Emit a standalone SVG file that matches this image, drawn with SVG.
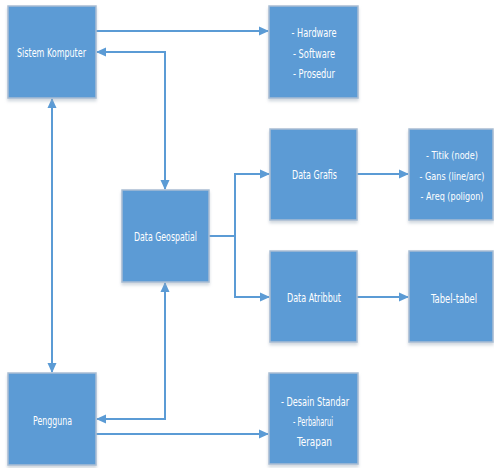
<svg xmlns="http://www.w3.org/2000/svg" width="494" height="468" viewBox="0 0 494 468">
<defs>
<marker id="ah" markerUnits="userSpaceOnUse" markerWidth="10" markerHeight="10" refX="9" refY="5" orient="auto-start-reverse" viewBox="0 0 10 10">
<path d="M0,0.5 L10,5 L0,9.5 Z" fill="#5B9BD5"/>
</marker>
<filter id="sh" x="-10%" y="-10%" width="120%" height="125%">
<feDropShadow dx="0" dy="2.5" stdDeviation="1.5" flood-color="#9aa8b8" flood-opacity="0.45"/>
</filter>
</defs>
<style>
.box{fill:#5B9BD5;stroke:#A9BDD3;stroke-width:1.5;filter:url(#sh)}
.t{fill:#ffffff;font-family:"Liberation Sans Narrow","DejaVu Sans Condensed","Liberation Sans",sans-serif;font-size:12.5px;text-anchor:middle}
.s{font-size:10px}
.c{fill:none;stroke:#5B9BD5;stroke-width:2}
</style>
<rect width="494" height="468" fill="#ffffff"/>
<g id="connectors">
<path class="c" d="M96,31 H268" marker-end="url(#ah)"/>
<path class="c" d="M97,52 H165 V189" marker-start="url(#ah)" marker-end="url(#ah)"/>
<path class="c" d="M52,99 V372" marker-start="url(#ah)" marker-end="url(#ah)"/>
<path class="c" d="M165,283 V419 H97" marker-start="url(#ah)" marker-end="url(#ah)"/>
<path class="c" d="M96,434 H268" marker-end="url(#ah)"/>
<path class="c" d="M209,236 H235"/>
<path class="c" d="M235,174 V297"/>
<path class="c" d="M234,174 H269" marker-end="url(#ah)"/>
<path class="c" d="M234,297 H269" marker-end="url(#ah)"/>
<path class="c" d="M357,174 H408" marker-end="url(#ah)"/>
<path class="c" d="M357,297 H408" marker-end="url(#ah)"/>
</g>
<g id="sistem-komputer">
<rect class="box" x="8" y="6" width="88" height="92"/>
<text class="t" x="51.5" y="56.5" textLength="69" lengthAdjust="spacingAndGlyphs">Sistem Komputer</text>
</g>
<g id="hardware">
<rect class="box" x="269" y="6" width="89" height="92"/>
<text class="t" x="314" y="36.5" textLength="45" lengthAdjust="spacingAndGlyphs">- Hardware</text>
<text class="t" x="314" y="57.5" textLength="42" lengthAdjust="spacingAndGlyphs">- Software</text>
<text class="t" x="314" y="77.5" textLength="42" lengthAdjust="spacingAndGlyphs">- Prosedur</text>
</g>
<g id="data-geospatial">
<rect class="box" x="122" y="190" width="87" height="92"/>
<text class="t" x="165.5" y="240.5" textLength="63" lengthAdjust="spacingAndGlyphs">Data Geospatial</text>
</g>
<g id="data-grafis">
<rect class="box" x="270" y="129" width="87" height="91"/>
<text class="t" x="314.5" y="178.5" textLength="45" lengthAdjust="spacingAndGlyphs">Data Grafis</text>
</g>
<g id="data-atribut">
<rect class="box" x="270" y="251" width="87" height="91"/>
<text class="t" x="314" y="301.5" textLength="54" lengthAdjust="spacingAndGlyphs">Data Atribbut</text>
</g>
<g id="titik">
<rect class="box" x="409" y="129" width="84" height="91"/>
<text class="t s" x="452" y="159" textLength="52" lengthAdjust="spacingAndGlyphs">- Titik (node)</text>
<text class="t s" x="452" y="180" textLength="65" lengthAdjust="spacingAndGlyphs">- Gans (line/arc)</text>
<text class="t s" x="452" y="200" textLength="63" lengthAdjust="spacingAndGlyphs">- Areq (poligon)</text>
</g>
<g id="tabel">
<rect class="box" x="409" y="251" width="84" height="91"/>
<text class="t" x="454" y="302.5" textLength="46" lengthAdjust="spacingAndGlyphs">Tabel-tabel</text>
</g>
<g id="pengguna">
<rect class="box" x="8" y="373" width="88" height="92"/>
<text class="t" x="52.5" y="424.5" textLength="39" lengthAdjust="spacingAndGlyphs">Pengguna</text>
</g>
<g id="desain">
<rect class="box" x="269" y="373" width="89" height="91"/>
<text class="t" x="315" y="405.5" textLength="68" lengthAdjust="spacingAndGlyphs">- Desain Standar</text>
<text class="t" x="313" y="425.5" textLength="40" lengthAdjust="spacingAndGlyphs">- Perbaharui</text>
<text class="t" x="314.5" y="445.5" textLength="35" lengthAdjust="spacingAndGlyphs">Terapan</text>
</g>
</svg>
